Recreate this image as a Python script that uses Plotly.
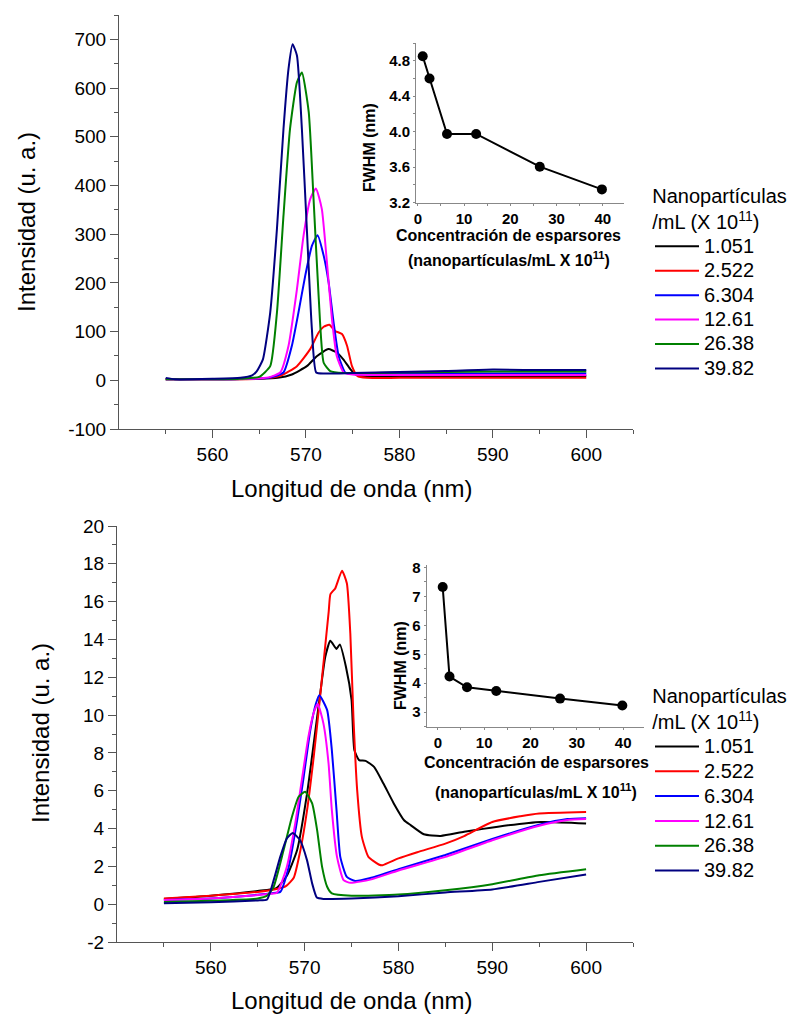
import plotly.graph_objects as go

# ---------------- DATA ----------------
labels = ["1.051", "2.522", "6.304", "12.61", "26.38", "39.82"]
colors = ["#000000", "#FF0000", "#0000FF", "#FF00FF", "#008000", "#000080"]

# Top panel spectra (wavelength nm, intensity a.u.)
top_x = [
    [555, 560, 565, 567, 568.5, 570.1, 571.2, 572.4, 573.3, 574.0, 574.75, 575.3, 576, 580, 585, 590, 595, 600],
    [555, 560, 565, 567.25, 569.04, 570.46, 571.36, 571.9, 572.5, 573.14, 573.86, 574.4, 574.93, 575.5, 576.5, 580, 590, 600],
    [555, 560, 564, 566, 567.6, 568.5, 569.2, 569.93, 570.64, 571.25, 571.9, 572.43, 572.96, 573.5, 574.2, 575, 580, 590, 600],
    [555, 560, 564, 566, 567.25, 568.14, 569.04, 569.75, 570.46, 571.07, 571.7, 572.25, 572.79, 573.3, 574.04, 575, 580, 590, 600],
    [555, 560, 563, 565, 566.18, 566.9, 567.6, 568.3, 569.04, 569.57, 570.3, 570.8, 571.36, 571.9, 572.6, 574, 580, 590, 600],
    [555, 556, 560, 563, 564.25, 564.75, 565.4, 566.18, 566.9, 567.6, 568.14, 568.57, 569.04, 569.57, 570.1, 570.64, 571.1, 572, 575, 580, 585, 590, 595, 600],
]
top_y = [
    [2, 2, 3, 5, 12, 29, 50, 64, 57, 43, 23, 12, 9, 8, 8, 9, 9, 9],
    [2, 2, 3, 9, 29, 64, 98, 110, 114, 101, 95, 71, 29, 9, 5, 5, 5, 5],
    [2, 2, 3, 5, 16, 71, 139, 215, 276, 298, 256, 201, 119, 50, 16, 13, 13, 14, 14],
    [2, 2, 3, 6, 16, 71, 187, 297, 372, 394, 352, 242, 125, 50, 16, 12, 11, 11, 11],
    [2, 2, 3, 7, 29, 139, 338, 516, 612, 632, 551, 379, 173, 36, 19, 15, 16, 18, 18],
    [5, 2, 3, 5, 10, 19, 43, 139, 311, 516, 640, 690, 667, 516, 311, 105, 16, 14, 15, 17, 19, 22, 21, 21],
]

# Bottom panel spectra
bot_x = [
    [555, 560, 565, 567, 568.1, 569.2, 570.26, 570.97, 571.7, 572.2, 572.74, 573.4, 573.75, 574.4, 575.0, 575.3, 575.8, 576.5, 577.4, 578.4, 579.5, 580.6, 581.3, 582.7, 584.5, 587.0, 590.6, 595.2, 600],
    [555, 560, 565, 567, 568.0, 568.84, 569.55, 570.26, 570.97, 571.5, 572.04, 572.57, 572.75, 573.26, 573.98, 574.5, 574.87, 575.2, 575.6, 576.1, 576.8, 577.9, 578.3, 580, 582, 585, 587, 590, 593, 595, 600],
    [555, 560, 565, 566.5, 567.4, 568.3, 569.2, 569.9, 570.6, 571.2, 571.57, 572.4, 572.9, 573.4, 573.8, 574.5, 575.4, 577, 580, 585, 590, 595, 598, 600],
    [555, 560, 565, 566.3, 567.05, 568.1, 569.0, 569.7, 570.4, 570.95, 571.4, 572.0, 572.55, 572.9, 573.45, 574.15, 574.9, 577, 580, 585, 590, 595, 598, 600],
    [555, 560, 565, 566, 566.7, 567.76, 568.65, 569.36, 570.05, 570.8, 571.33, 571.86, 572.4, 572.9, 575, 580, 585, 590, 595, 600],
    [555, 560, 565, 566.0, 566.7, 567.4, 568.1, 568.72, 569.5, 570.25, 570.8, 571.3, 572, 575, 580, 585, 590, 595, 600],
]
bot_y = [
    [0.28, 0.45, 0.7, 0.85, 1.5, 2.86, 5.86, 8.5, 11.3, 13.08, 13.93, 13.5, 13.74, 12.56, 10.8, 8.15, 7.62, 7.58, 7.26, 6.38, 5.33, 4.44, 4.18, 3.7, 3.61, 3.83, 4.1, 4.35, 4.27],
    [0.3, 0.45, 0.65, 0.8, 0.95, 1.4, 2.86, 4.97, 7.8, 10.26, 12.9, 15.5, 16.4, 16.7, 17.64, 16.97, 14.3, 9.9, 6.03, 3.56, 2.5, 2.1, 2.06, 2.42, 2.75, 3.2, 3.6, 4.35, 4.65, 4.8, 4.88],
    [0.22, 0.3, 0.5, 0.58, 0.65, 1.97, 4.44, 6.74, 9.2, 10.6, 11.05, 10.26, 8.15, 4.97, 2.5, 1.44, 1.23, 1.38, 1.85, 2.6, 3.45, 4.2, 4.5, 4.55],
    [0.22, 0.3, 0.48, 0.55, 0.6, 1.97, 4.27, 6.56, 8.85, 10.1, 10.58, 9.56, 7.44, 4.97, 2.5, 1.27, 1.13, 1.3, 1.78, 2.5, 3.38, 4.15, 4.45, 4.5],
    [0.12, 0.18, 0.3, 0.45, 0.92, 2.86, 4.62, 5.68, 5.95, 5.33, 3.92, 1.97, 0.92, 0.57, 0.45, 0.51, 0.74, 1.06, 1.53, 1.85],
    [0.05, 0.1, 0.2, 0.25, 1.27, 2.5, 3.47, 3.77, 3.39, 2.33, 1.1, 0.35, 0.28, 0.3, 0.42, 0.62, 0.78, 1.18, 1.57],
]

# Insets: FWHM vs scatterer concentration
conc = [1.051, 2.522, 6.304, 12.61, 26.38, 39.82]
fwhm_top = [4.85, 4.60, 3.975, 3.975, 3.606, 3.35]
fwhm_bot = [7.32, 4.23, 3.86, 3.73, 3.47, 3.23]

main_xticks = [560, 570, 580, 590, 600]
main_xminor = [555, 565, 575, 585, 595, 605]
top_yticks = [-100, 0, 100, 200, 300, 400, 500, 600, 700]
top_yminor = [-50, 50, 150, 250, 350, 450, 550, 650, 750]
bot_yticks = [-2, 0, 2, 4, 6, 8, 10, 12, 14, 16, 18, 20]
bot_yminor = [-1, 1, 3, 5, 7, 9, 11, 13, 15, 17, 19]
ins1_yticks = [3.2, 3.6, 4.0, 4.4, 4.8]
ins1_yminor = [3.4, 3.8, 4.2, 4.6, 5.0]
ins2_yticks = [3, 4, 5, 6, 7, 8]
ins2_yminor = [2.5, 3.5, 4.5, 5.5, 6.5, 7.5]
ins_xticks = [0, 10, 20, 30, 40]
ins_xminor = [5, 15, 25, 35]

FONT = "Liberation Sans, Arial, sans-serif"
W, H = 792, 1014
LEG_TITLE = "Nanopartículas<br>/mL (X 10<sup>11</sup>)"

fig = go.Figure()

def leg_name(t):
    return '<span style="font-size:20px">' + t + '</span>'

for i in range(6):
    fig.add_trace(go.Scatter(x=top_x[i], y=top_y[i], mode="lines", name=leg_name(labels[i]),
                             line=dict(color=colors[i], width=2, shape="spline", smoothing=0.5),
                             xaxis="x", yaxis="y", legend="legend"))
for i in range(6):
    fig.add_trace(go.Scatter(x=bot_x[i], y=bot_y[i], mode="lines", name=leg_name(labels[i]),
                             line=dict(color=colors[i], width=2, shape="spline", smoothing=0.5),
                             xaxis="x2", yaxis="y2", legend="legend2"))

fig.add_trace(go.Scatter(x=conc, y=fwhm_top, mode="lines+markers", showlegend=False,
                         line=dict(color="black", width=2), marker=dict(color="black", size=10),
                         xaxis="x3", yaxis="y3"))
fig.add_trace(go.Scatter(x=conc, y=fwhm_bot, mode="lines+markers", showlegend=False,
                         line=dict(color="black", width=2), marker=dict(color="black", size=10),
                         xaxis="x4", yaxis="y4"))

def px(v):
    return v / W

def py(v):
    return 1 - v / H

def main_axis(domain, rng, tickvals, ticktext, minor, anchor):
    return dict(domain=domain, range=rng, anchor=anchor, tickmode="array", tickvals=tickvals,
                ticktext=ticktext, ticks="outside", ticklen=8, tickwidth=1, tickcolor="#555555",
                showline=True, linecolor="#555555", linewidth=1, showgrid=False, zeroline=False,
                automargin=False,
                tickfont=dict(size=19, family=FONT, color="black"),
                minor=dict(tickvals=minor, ticks="outside", ticklen=4, tickwidth=1,
                           tickcolor="#555555", showgrid=False))

def inset_axis(domain, rng, tickvals, ticktext, minor, anchor):
    return dict(domain=domain, range=rng, anchor=anchor, tickmode="array", tickvals=tickvals,
                ticktext=ticktext, ticks="outside", ticklen=2, tickwidth=1, tickcolor="#888888",
                showline=True, linecolor="#888888", linewidth=1, showgrid=False, zeroline=False,
                automargin=False,
                tickfont=dict(size=15, family=FONT, color="black", weight="bold"),
                minor=dict(tickvals=minor, ticks="outside", ticklen=2, tickwidth=1,
                           tickcolor="#888888", showgrid=False))

def legend_box(top, fsize):
    return dict(x=px(650), y=py(top), xanchor="left", yanchor="top", bgcolor="rgba(0,0,0,0)",
                font=dict(size=fsize, family=FONT), itemwidth=44, tracegroupgap=0,
                title=dict(text=LEG_TITLE, side="top center", font=dict(size=20, family=FONT)))

fig.update_layout(
    width=W, height=H, margin=dict(l=0, r=0, t=0, b=0, autoexpand=False),
    paper_bgcolor="white", plot_bgcolor="rgba(0,0,0,0)",
    font=dict(family=FONT, color="black"),
    xaxis=main_axis([px(119), px(633)], [550, 605], main_xticks, [str(v) for v in main_xticks], main_xminor, "y"),
    yaxis=main_axis([py(429), py(15)], [-100, 750], top_yticks, ["-100" if v < 0 else str(v) for v in top_yticks], top_yminor, "x"),
    xaxis2=main_axis([px(117), px(633)], [550, 605], main_xticks, [str(v) for v in main_xticks], main_xminor, "y2"),
    yaxis2=main_axis([py(942), py(526)], [-2, 20], bot_yticks, ["-2" if v < 0 else str(v) for v in bot_yticks], bot_yminor, "x2"),
    xaxis3=inset_axis([px(416), px(624)], [-0.4, 44.6], ins_xticks, [str(v) for v in ins_xticks], ins_xminor, "y3"),
    yaxis3=inset_axis([py(202.7), py(43)], [3.2, 5.0], ins1_yticks, ["%.1f" % v for v in ins1_yticks], ins1_yminor, "x3"),
    xaxis4=inset_axis([px(426.7), px(644)], [-2.4, 44.5], ins_xticks, [str(v) for v in ins_xticks], ins_xminor, "y4"),
    yaxis4=inset_axis([py(726.7), py(565)], [2.5, 8.08], ins2_yticks, [str(v) for v in ins2_yticks], ins2_yminor, "x4"),
    legend=legend_box(177, 16.5),
    legend2=legend_box(677, 16.8),
)

def ann(text, x, y, size, angle=0, bold=False):
    fig.add_annotation(text=text, x=px(x), y=py(y), xref="paper", yref="paper",
                       xanchor="center", yanchor="middle", showarrow=False, textangle=angle,
                       font=dict(size=size, family=FONT, color="black",
                                 weight="bold" if bold else "normal"))

ann("Intensidad (u. a.)", 26, 222, 24, -90)
ann("Intensidad (u. a.)", 40, 733, 24, -90)
ann("Longitud de onda (nm)", 352, 488, 24)
ann("Longitud de onda (nm)", 352, 1000, 24)

ann("FWHM (nm)", 370, 148, 16, -90, True)
ann("Concentración de esparsores", 509, 236, 16, 0, True)
ann("(nanopartículas/mL X 10<sup>11</sup>)", 509, 259, 16, 0, True)

ann("FWHM (nm)", 400, 666, 16, -90, True)
ann("Concentración de esparsores", 536, 762, 16, 0, True)
ann("(nanopartículas/mL X 10<sup>11</sup>)", 536, 791, 16, 0, True)

fig.write_html("out.html", config={"displayModeBar": False},
               post_script="document.body.style.margin='0px';document.body.style.overflow='hidden';")
